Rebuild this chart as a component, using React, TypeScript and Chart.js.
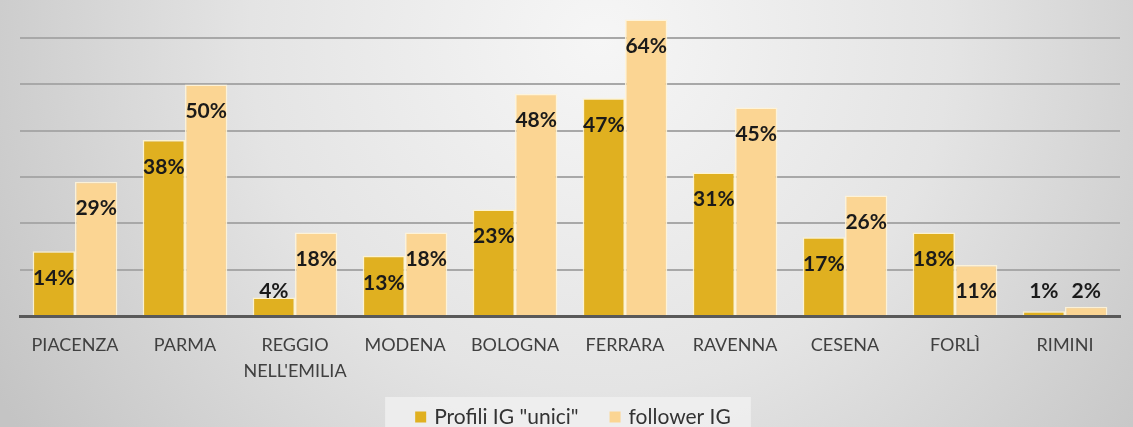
import React, { useEffect, useRef } from 'react';
import { Chart, registerables } from 'chart.js';
Chart.register(...registerables);

const categories: (string | string[])[] = [
  'PIACENZA', 'PARMA', ['REGGIO', "NELL'EMILIA"], 'MODENA', 'BOLOGNA',
  'FERRARA', 'RAVENNA', 'CESENA', 'FORLÌ', 'RIMINI',
];
const profiliUnici = [14, 38, 4, 13, 23, 47, 31, 17, 18, 1];
const followerIG = [29, 50, 18, 18, 48, 64, 45, 26, 11, 2];
const seriesNames = ['Profili IG "unici"', 'follower IG'];
const seriesColors = ['#E0B020', '#FBD593'];
const FONT = 'Lato, "Open Sans", sans-serif';

const bgPlugin = {
  id: 'bgPlugin',
  beforeDraw(chart: any) {
    const { ctx, width, height } = chart;
    ctx.save();
    const g = ctx.createRadialGradient(600, 40, 0, 600, 40, 700);
    g.addColorStop(0, '#f6f6f6');
    g.addColorStop(0.5, '#e4e4e4');
    g.addColorStop(1, '#c4c4c4');
    ctx.fillStyle = g;
    ctx.fillRect(0, 0, width, height);
    ctx.restore();
  },
};

const labelPlugin = {
  id: 'labelPlugin',
  afterDatasetsDraw(chart: any) {
    const { ctx } = chart;
    ctx.save();
    ctx.font = `bold 21px ${FONT}`;
    ctx.fillStyle = '#1a1a1a';
    ctx.textAlign = 'center';
    ctx.textBaseline = 'middle';
    chart.data.datasets.forEach((ds: any, i: number) => {
      const meta = chart.getDatasetMeta(i);
      meta.data.forEach((bar: any, j: number) => {
        const y = Math.min(bar.y + 27, bar.base - 24);
        ctx.fillText(ds.data[j] + '%', bar.x, y);
      });
    });
    ctx.restore();
  },
};

const legendPlugin = {
  id: 'customLegend',
  afterDraw(chart: any) {
    const { ctx } = chart;
    ctx.save();
    ctx.font = `21px ${FONT}`;
    const box = 11;
    const gapText = 8;
    const gapItems = 31;
    const widths = seriesNames.map((n) => box + gapText + ctx.measureText(n).width);
    const total = widths.reduce((a, b) => a + b, 0) + gapItems;
    const cx = 573;
    let x = cx - total / 2;
    const yMid = 417;
    ctx.fillStyle = 'rgba(240,240,240,0.85)';
    ctx.fillRect(x - 30, 397, total + 50, 30);
    seriesNames.forEach((n, i) => {
      ctx.fillStyle = seriesColors[i];
      ctx.fillRect(x, yMid - box / 2, box, box);
      ctx.fillStyle = '#333333';
      ctx.textAlign = 'left';
      ctx.textBaseline = 'middle';
      ctx.fillText(n, x + box + gapText, yMid);
      x += widths[i] + gapItems;
    });
    ctx.restore();
  },
};

export default function App() {
  const ref = useRef<HTMLCanvasElement | null>(null);
  useEffect(() => {
    document.body.style.margin = '0';
    const chart = new Chart(ref.current!, {
      type: 'bar',
      data: {
        labels: categories as any,
        datasets: [
          {
            label: seriesNames[0],
            data: profiliUnici,
            backgroundColor: seriesColors[0],
            borderColor: 'rgba(255,244,205,0.9)',
            borderWidth: 1.5,
            categoryPercentage: 0.77,
            barPercentage: 1,
          },
          {
            label: seriesNames[1],
            data: followerIG,
            backgroundColor: seriesColors[1],
            borderColor: 'rgba(255,244,215,0.9)',
            borderWidth: 1.5,
            categoryPercentage: 0.77,
            barPercentage: 1,
          },
        ],
      },
      options: {
        animation: false,
        responsive: false,
        maintainAspectRatio: false,
        layout: { padding: { top: 1, left: 20, right: 13, bottom: 0 } },
        plugins: {
          legend: { display: false },
          tooltip: { enabled: false },
        },
        scales: {
          x: {
            grid: { display: false },
            border: { display: true, color: '#595959', width: 3 },
            ticks: {
              color: '#404040',
              font: { family: FONT, size: 18, lineHeight: 1.45 },
              padding: 8,
              maxRotation: 0,
              autoSkip: false,
            },
            afterFit(scale: any) {
              scale.height = 111;
            },
          },
          y: {
            min: 0,
            max: 68,
            ticks: { display: false, stepSize: 10 },
            afterBuildTicks(scale: any) {
              scale.ticks = scale.ticks.filter((t: any) => t.value % 10 === 0);
            },
            grid: { color: '#a8a8a8', lineWidth: 2, drawTicks: false },
            border: { display: false },
          },
        },
      },
      plugins: [bgPlugin, labelPlugin, legendPlugin],
    });
    return () => chart.destroy();
  }, []);
  return (
    <div style={{ position: 'fixed', left: 0, top: 0, width: 1133, height: 427 }}>
      <canvas ref={ref} width={1133} height={427} style={{ width: 1133, height: 427, display: 'block' }} />
    </div>
  );
}
